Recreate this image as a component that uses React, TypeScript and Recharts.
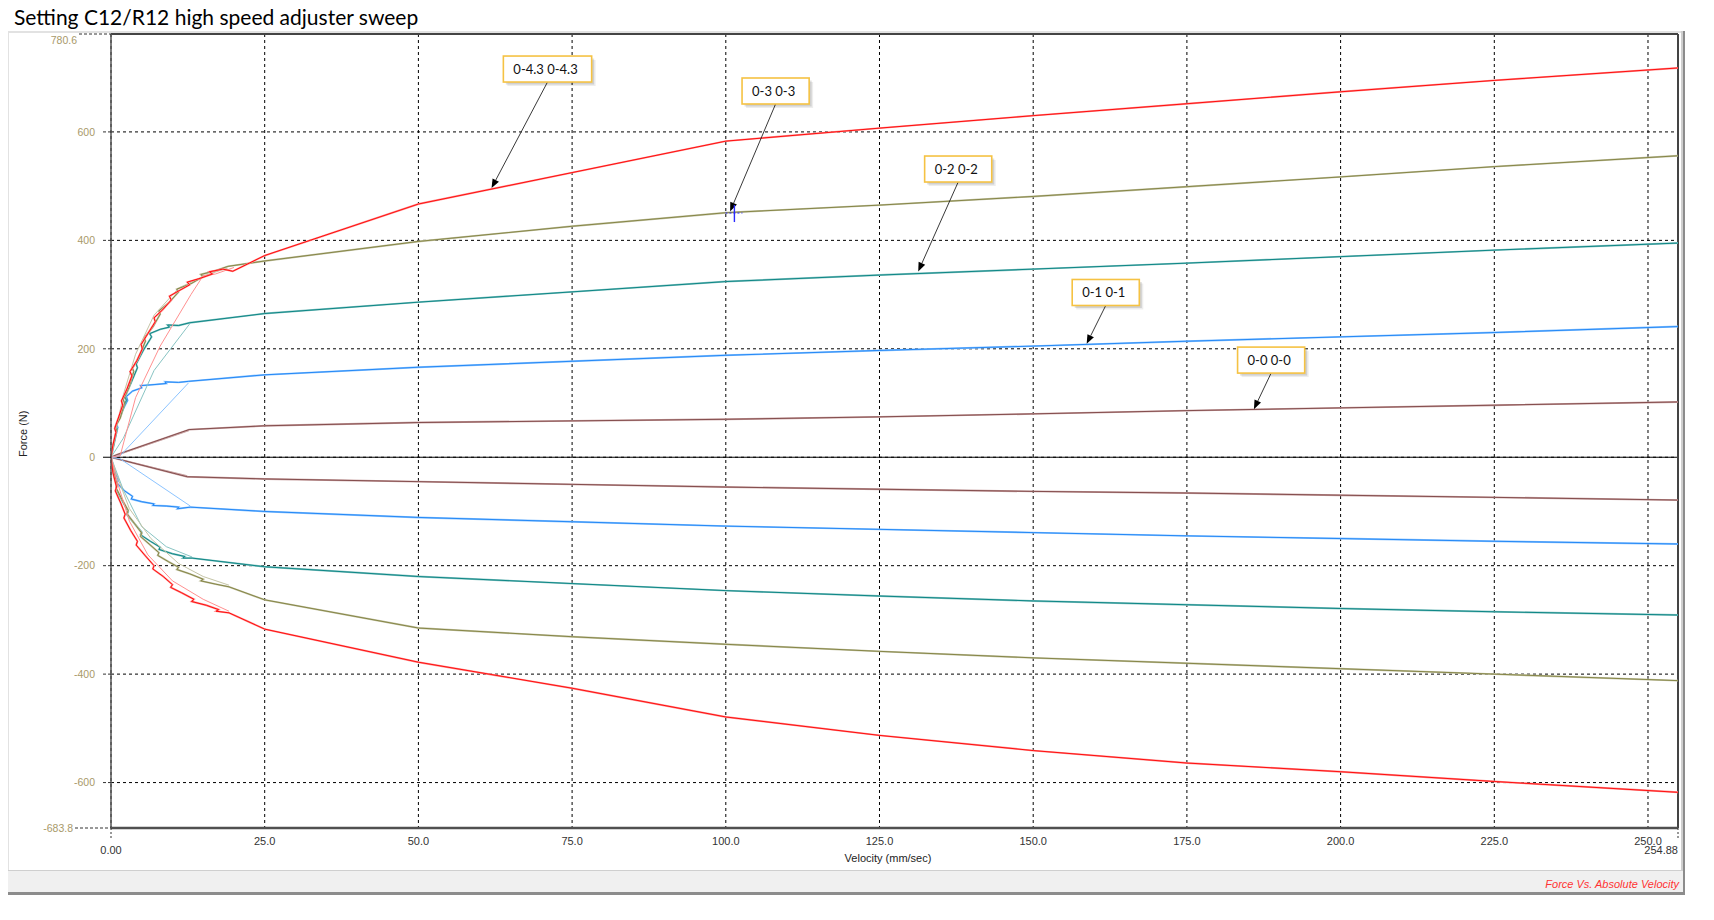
import React from 'react';
import { LineChart, Line, XAxis, YAxis, CartesianGrid, ReferenceLine, ReferenceDot } from 'recharts';

type Pt = [number, number];

// axis ticks
const velTicks = [0, 25, 50, 75, 100, 125, 150, 175, 200, 225, 250, 254.88];
const forceTicks = [-683.8, -600, -400, -200, 0, 200, 400, 600, 780.6];

// 0-4.3 (red)
const redCompLow: Pt[] = [[0, 0], [0.3, 22], [0.8, 46], [0.6, 53], [1.3, 76], [1.9, 96], [1.7, 104], [2.6, 126], [3.4, 150], [3.1, 158], [4.2, 178], [5.1, 200], [4.9, 208], [6.0, 228], [7.2, 250], [7.0, 257], [8.4, 272], [9.8, 290], [9.5, 297], [11.2, 308], [12.8, 318], [12.4, 323], [14.5, 330], [16.5, 338], [16.0, 342], [18.2, 347], [19.8, 343]];
const redCompHigh: Pt[] = [[25, 372], [50, 467], [75, 525], [100, 583], [125, 607], [150, 630], [175, 652], [200, 674], [225, 695], [254.88, 718]];
const redCompBack: Pt[] = [[20, 350], [17, 338], [15, 335], [13, 300], [8, 205], [4, 110], [1.5, 3], [0, 0]];
const redRebLow: Pt[] = [[0, 0], [0.3, -28], [0.9, -55], [0.7, -62], [1.6, -85], [2.3, -105], [2.1, -112], [3.2, -135], [4.3, -155], [4.1, -162], [5.6, -182], [7, -200], [6.8, -206], [8.5, -220], [10, -235], [9.7, -240], [11.5, -250], [13.5, -262], [13.1, -266], [15.5, -273], [17.5, -281], [17.1, -284], [19.2, -287]];
const redRebHigh: Pt[] = [[25, -317], [50, -378], [75, -426], [100, -479], [125, -513], [150, -541], [175, -564], [200, -580], [225, -598], [254.88, -618]];
const redRebBack: Pt[] = [[19.2, -284], [15, -262], [10, -228], [6, -180], [3, -118], [1, -45], [0, 0]];

// 0-3 (olive)
const oliCompLow: Pt[] = [[0, 0], [0.4, 24], [0.9, 50], [0.7, 56], [1.5, 72], [2.2, 100], [2.0, 106], [2.9, 128], [3.7, 158], [3.5, 164], [4.6, 186], [5.6, 214], [5.4, 220], [6.8, 240], [8, 264], [7.8, 270], [9.5, 286], [11, 305], [10.7, 310], [13, 320], [15, 333], [14.6, 337], [17, 344], [19, 352]];
const oliCompHigh: Pt[] = [[25, 362], [50, 398], [75, 426], [100, 451], [125, 465], [150, 481], [175, 499], [200, 517], [225, 536], [254.88, 556]];
const oliCompBack: Pt[] = [[19, 349], [15.5, 336], [11, 312], [7, 262], [4, 190], [2, 115], [0.5, 30], [0, 0]];
const oliRebLow: Pt[] = [[0, 0], [0.4, -25], [1.0, -50], [0.8, -56], [1.8, -78], [2.8, -98], [2.6, -104], [3.8, -122], [5, -140], [4.8, -146], [6.2, -160], [7.8, -176], [7.6, -181], [9.4, -193], [11, -203], [10.7, -207], [12.8, -215], [15, -225], [14.6, -228], [17, -234], [19.2, -239]];
const oliRebHigh: Pt[] = [[25, -263], [50, -315], [75, -331], [100, -345], [125, -358], [150, -370], [175, -380], [200, -390], [225, -400], [254.88, -412]];
const oliRebBack: Pt[] = [[19.2, -236], [15, -220], [11, -196], [6.5, -150], [3, -95], [1, -35], [0, 0]];

// 0-2 (teal)
const tealCompLow: Pt[] = [[0, 0], [0.5, 25], [1.0, 52], [0.8, 58], [1.7, 80], [2.5, 105], [2.3, 112], [3.3, 138], [4.3, 165], [4.1, 172], [5.3, 198], [6.6, 222], [6.3, 228], [8, 236], [9.5, 240], [9.2, 244], [11, 243], [12.8, 248]];
const tealCompHigh: Pt[] = [[25, 265], [50, 286], [75, 305], [100, 324], [125, 336], [150, 347], [175, 358], [200, 370], [225, 382], [254.88, 395]];
const tealCompBack: Pt[] = [[12.8, 246], [7, 160], [2, 35], [0, 0]];
const tealRebLow: Pt[] = [[0, 0], [0.4, -25], [1.0, -52], [0.8, -58], [1.8, -80], [2.8, -100], [2.6, -106], [3.8, -122], [5, -138], [4.8, -143], [6.4, -155], [8, -166], [7.8, -170], [10, -178], [12, -183], [11.7, -186], [13.2, -186]];
const tealRebHigh: Pt[] = [[25, -202], [50, -220], [75, -233], [100, -246], [125, -256], [150, -265], [175, -272], [200, -279], [225, -285], [254.88, -291]];
const tealRebBack: Pt[] = [[13.2, -184], [9, -165], [5, -128], [2, -60], [0, 0]];

// 0-1 (blue)
const bluCompLow: Pt[] = [[0, 0], [0.5, 28], [1.1, 55], [0.9, 62], [1.8, 85], [2.7, 105], [2.5, 112], [3.5, 122], [5, 128], [4.8, 132], [7, 134], [9, 136], [8.8, 139], [11, 138], [12.6, 140]];
const bluCompHigh: Pt[] = [[25, 152], [50, 166], [75, 177], [100, 188], [125, 197], [150, 205], [175, 214], [200, 222], [225, 230], [254.88, 241]];
const bluCompBack: Pt[] = [[12.6, 137], [1.5, 3], [0, 0]];
const bluRebLow: Pt[] = [[0, 0], [0.5, -22], [1.2, -42], [1.0, -48], [2.2, -62], [3.5, -72], [3.3, -77], [5, -82], [7, -86], [6.8, -89], [9, -90], [11, -92], [10.8, -95], [12.9, -92]];
const bluRebHigh: Pt[] = [[25, -100], [50, -111], [75, -119], [100, -127], [125, -133], [150, -139], [175, -145], [200, -150], [225, -155], [254.88, -160]];
const bluRebBack: Pt[] = [[12.9, -90], [1.5, -3], [0, 0]];

// 0-0 (brown)
const brnCompLow: Pt[] = [[0, 0], [1, 5], [12.7, 51]];
const brnCompHigh: Pt[] = [[25, 58], [50, 64], [75, 67], [100, 70], [125, 74.5], [150, 80], [175, 86], [200, 91], [225, 96], [254.88, 102]];
const brnCompBack: Pt[] = [[12.7, 49], [0, 0]];
const brnRebLow: Pt[] = [[0, 0], [1, -3], [12.4, -36]];
const brnRebHigh: Pt[] = [[25, -40], [50, -45], [75, -50], [100, -55], [125, -59], [150, -63], [175, -66], [200, -70], [225, -74], [254.88, -79]];
const brnRebBack: Pt[] = [[12.4, -34], [0, 0]];

// callouts
const noteLabels = ['0-4.3 0-4.3', '0-3 0-3', '0-2 0-2', '0-1 0-1', '0-0 0-0'];
const noteAnchorVel = [71.0, 108.1, 137.8, 161.8, 188.7];
const noteAnchorForce = [692, 651.5, 507.6, 279.9, 155.2];
const noteTipVel = [61.9, 100.7, 131.3, 158.7, 185.9];
const noteTipForce = [496.5, 453.3, 342.6, 209.2, 88.7];
const cursorPt: Pt = [101.4, 450.4];

const rows = (...parts: Pt[][]) => parts.flat().map(([v, f]) => ({ v, f }));

const series = [
  { key: 'brn', dark: '#7d4444', light: '#c9a3a3', comp: rows(brnCompLow, brnCompHigh), compBack: rows(brnCompBack), reb: rows(brnRebLow, brnRebHigh), rebBack: rows(brnRebBack) },
  { key: 'blu', dark: '#1a82f5', light: '#8cc4ff', comp: rows(bluCompLow, bluCompHigh), compBack: rows(bluCompBack), reb: rows(bluRebLow, bluRebHigh), rebBack: rows(bluRebBack) },
  { key: 'teal', dark: '#00807f', light: '#88c4c3', comp: rows(tealCompLow, tealCompHigh), compBack: rows(tealCompBack), reb: rows(tealRebLow, tealRebHigh), rebBack: rows(tealRebBack) },
  { key: 'oli', dark: '#7f7f3c', light: '#c4c4a6', comp: rows(oliCompLow, oliCompHigh), compBack: rows(oliCompBack), reb: rows(oliRebLow, oliRebHigh), rebBack: rows(oliRebBack) },
  { key: 'red', dark: '#ff0000', light: '#ff9090', comp: rows(redCompLow, redCompHigh), compBack: rows(redCompBack), reb: rows(redRebLow, redRebHigh), rebBack: rows(redRebBack) },
];

const tickFont = '"Liberation Sans", Arial, sans-serif';

const renderYTick = (props: any) => {
  const { x, y, payload } = props;
  const v = payload.value;
  const top = v === forceTicks[forceTicks.length - 1];
  const bottom = v === forceTicks[0];
  const label = top || bottom ? v.toFixed(1) : String(v);
  const textX = top ? x - 34 : bottom ? x - 38 : x - 16;
  const stubX = top ? x - 32 : bottom ? x - 36 : x - 8;
  return (
    <g>
      <line x1={stubX} x2={x} y1={y} y2={y} stroke={v === 0 ? '#000' : '#333'} strokeDasharray={v === 0 ? undefined : '3 2'} />
      <text x={textX} y={y + (top ? 6 : 0)} dy="0.36em" textAnchor="end" fontFamily={tickFont} fontSize={10.5} fill="#a8996a">
        {label}
      </text>
    </g>
  );
};

const renderXTick = (props: any) => {
  const { x, y, payload } = props;
  const v = payload.value;
  const first = v === velTicks[0];
  const last = v === velTicks[velTicks.length - 1];
  const label = first ? '0.00' : last ? '254.88' : v.toFixed(1);
  return (
    <g>
      {(first || last) && <line x1={x} x2={x} y1={y} y2={y + 12} stroke="#333" strokeDasharray="2 2" />}
      <text x={x} y={y + (first || last ? 25.5 : 16.7)} textAnchor={last ? 'end' : 'middle'} fontFamily={tickFont} fontSize={11} fill="#333">
        {label}
      </text>
    </g>
  );
};

const NoteBox = (props: any) => {
  const { cx, cy, text } = props;
  const w = text.length * 5.3 + 30;
  const h = 26;
  const x = cx - w / 2;
  const y = cy - h;
  return (
    <g>
      <rect x={x + 4} y={y + 4} width={w} height={h} fill="#000" opacity={0.07} />
      <rect x={x + 2.5} y={y + 2.5} width={w} height={h} fill="#000" opacity={0.12} />
      <rect x={x} y={y} width={w} height={h} fill="#fff" stroke="#f5c243" strokeWidth={1.6} />
      <text x={x + 10} y={y + h / 2} dy="0.36em" fontFamily="Lato, sans-serif" fontSize={13} fill="#111">
        {text}
      </text>
    </g>
  );
};

const Arrow = (props: any) => {
  const { x1, y1, x2, y2 } = props;
  const a = Math.atan2(y2 - y1, x2 - x1);
  const L = 9;
  const W = 3.6;
  const bx = x2 - L * Math.cos(a);
  const by = y2 - L * Math.sin(a);
  const pts = `${x2},${y2} ${bx - W * Math.sin(a)},${by + W * Math.cos(a)} ${bx + W * Math.sin(a)},${by - W * Math.cos(a)}`;
  return (
    <g>
      <line x1={x1} y1={y1} x2={bx} y2={by} stroke="#222" strokeWidth={0.9} />
      <polygon points={pts} fill="#000" />
    </g>
  );
};

const Cursor = (props: any) => {
  const { cx, cy } = props;
  return (
    <g>
      <line x1={cx} x2={cx} y1={cy - 8} y2={cy + 9} stroke="#2a2aff" strokeWidth={1.4} />
      <line x1={cx - 9} x2={cx + 8} y1={cy} y2={cy} stroke="#2a2aff" strokeWidth={1} strokeDasharray="2 2" />
    </g>
  );
};

export default function App() {
  return (
    <div style={{ position: 'absolute', left: 0, top: 0, width: 1714, height: 920, background: '#fff', overflow: 'hidden' }}>
      <div style={{ position: 'absolute', left: 14, top: 6, fontFamily: 'Lato, sans-serif', fontSize: 21, lineHeight: '21px', color: '#000', whiteSpace: 'nowrap' }}>
        Setting C12/R12 high speed adjuster sweep
      </div>
      {/* panel frame */}
      <div style={{ position: 'absolute', left: 8, top: 31, width: 1675, height: 2, background: '#e2e2e2' }} />
      <div style={{ position: 'absolute', left: 8, top: 31, width: 1, height: 862, background: '#e2e2e2' }} />
      <div style={{ position: 'absolute', left: 1681, top: 31, width: 2, height: 864, background: '#cfcfcf' }} />
      <div style={{ position: 'absolute', left: 1683, top: 31, width: 2, height: 864, background: '#8c8c8c' }} />

      <div style={{ position: 'absolute', left: 0, top: 0 }}>
        <LineChart width={1714} height={920} margin={{ top: 34, right: 36, bottom: 32, left: 0 }}>
          <CartesianGrid stroke="#000" strokeDasharray="3 3" />
          <XAxis
            type="number"
            dataKey="v"
            domain={[0, 254.88]}
            ticks={velTicks}
            interval={0}
            allowDataOverflow
            height={60}
            tickSize={0}
            tickMargin={0}
            tickLine={false}
            tick={renderXTick}
            axisLine={{ stroke: '#505050', strokeWidth: 2.5 }}
          />
          <YAxis
            type="number"
            domain={[-683.8, 780.6]}
            ticks={forceTicks}
            interval={0}
            allowDataOverflow
            width={111}
            tickSize={0}
            tickMargin={0}
            tickLine={false}
            tick={renderYTick}
            axisLine={{ stroke: '#555', strokeWidth: 1.5 }}
          />
          <ReferenceLine y={0} stroke="#000" strokeWidth={1.2} />
          <ReferenceLine y={780.6} stroke="#444" strokeWidth={2} />
          <ReferenceLine x={254.88} stroke="#444" strokeWidth={2} />
          {series.map((s) => [
            <Line key={s.key + 'cu'} data={s.comp} dataKey="f" type="linear" stroke={s.light} strokeWidth={1.9} dot={false} activeDot={false} isAnimationActive={false} />,
            <Line key={s.key + 'ru'} data={s.reb} dataKey="f" type="linear" stroke={s.light} strokeWidth={1.9} dot={false} activeDot={false} isAnimationActive={false} />,
            <Line key={s.key + 'cb'} data={s.compBack} dataKey="f" type="linear" stroke={s.light} strokeWidth={1} dot={false} activeDot={false} isAnimationActive={false} />,
            <Line key={s.key + 'rb'} data={s.rebBack} dataKey="f" type="linear" stroke={s.light} strokeWidth={1} dot={false} activeDot={false} isAnimationActive={false} />,
            <Line key={s.key + 'c'} data={s.comp} dataKey="f" type="linear" stroke={s.dark} strokeWidth={0.9} dot={false} activeDot={false} isAnimationActive={false} />,
            <Line key={s.key + 'r'} data={s.reb} dataKey="f" type="linear" stroke={s.dark} strokeWidth={0.9} dot={false} activeDot={false} isAnimationActive={false} />,
          ])}
          {noteLabels.map((t, i) => (
            <ReferenceLine
              key={'a' + i}
              segment={[
                { x: noteAnchorVel[i], y: noteAnchorForce[i] },
                { x: noteTipVel[i], y: noteTipForce[i] },
              ]}
              shape={Arrow}
            />
          ))}
          <ReferenceDot x={cursorPt[0]} y={cursorPt[1]} r={1} shape={Cursor} />
          {noteLabels.map((t, i) => (
            <ReferenceDot key={'n' + i} x={noteAnchorVel[i]} y={noteAnchorForce[i]} r={1} shape={(p: any) => <NoteBox {...p} text={t} />} />
          ))}
        </LineChart>
      </div>

      <div style={{ position: 'absolute', left: 3, top: 431, width: 40, height: 12, fontFamily: tickFont, fontSize: 11, lineHeight: '12px', textAlign: 'center', color: '#222', transform: 'rotate(-90deg)', whiteSpace: 'nowrap' }}>
        Force (N)
      </div>
      <div style={{ position: 'absolute', left: 788, top: 852.5, width: 200, fontFamily: tickFont, fontSize: 11, lineHeight: '11px', textAlign: 'center', color: '#222' }}>
        Velocity (mm/sec)
      </div>

      {/* status bar */}
      <div style={{ position: 'absolute', left: 8, top: 870, width: 1675, height: 22, background: '#f0f0f0', borderTop: '1px solid #cfcfcf', boxSizing: 'border-box' }} />
      <div style={{ position: 'absolute', left: 8, top: 892, width: 1677, height: 3, background: '#8c8c8c' }} />
      <div style={{ position: 'absolute', left: 1379, top: 878.7, width: 300, fontFamily: tickFont, fontStyle: 'italic', fontSize: 11, lineHeight: '11px', textAlign: 'right', color: '#ff3333' }}>
        Force Vs. Absolute Velocity
      </div>
    </div>
  );
}
